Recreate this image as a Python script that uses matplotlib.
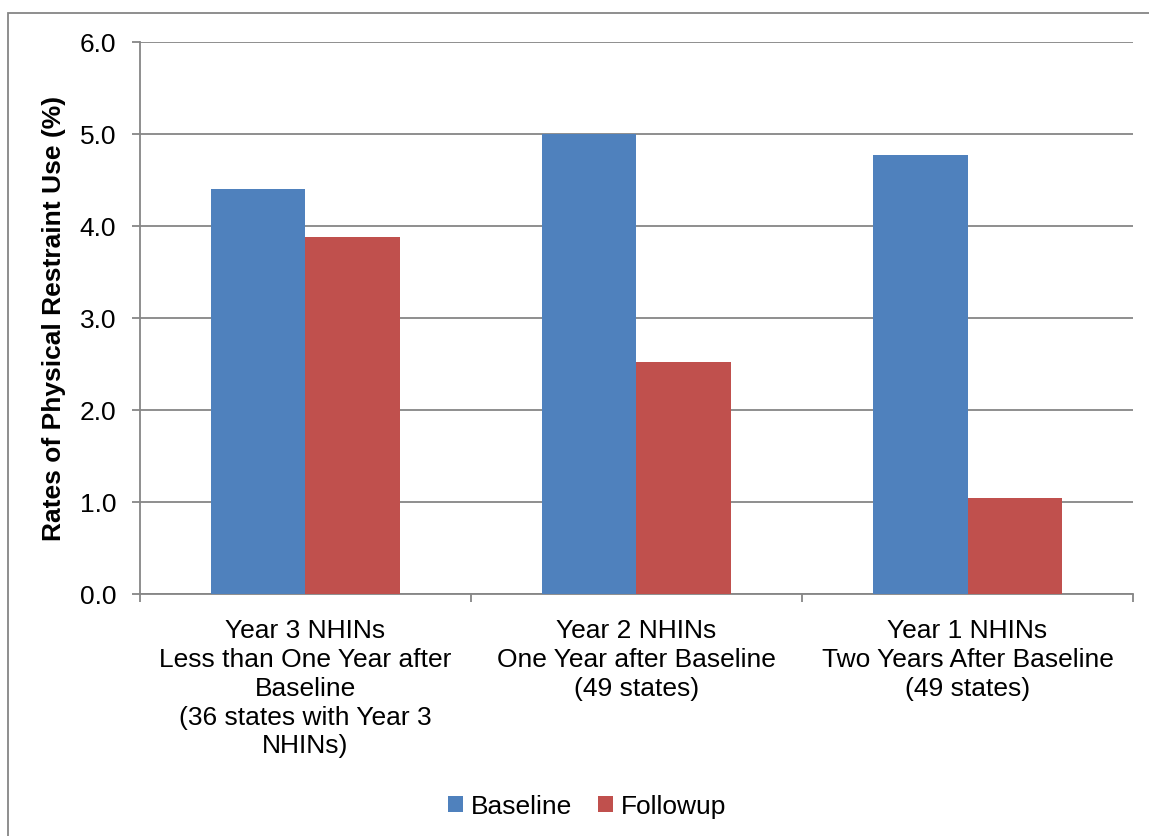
import matplotlib
matplotlib.use("Agg")
import matplotlib.pyplot as plt
from matplotlib.patches import Rectangle
import numpy as np

plt.rcParams["font.family"] = ["Liberation Sans", "DejaVu Sans"]

categories = [
    "Year 3 NHINs\nLess than One Year after\nBaseline\n(36 states with Year 3\nNHINs)",
    "Year 2 NHINs\nOne Year after Baseline\n(49 states)",
    "Year 1 NHINs\nTwo Years After Baseline\n(49 states)",
]
baseline = [4.41, 5.00, 4.78]
followup = [3.88, 2.52, 1.05]
yticks = [0.0, 1.0, 2.0, 3.0, 4.0, 5.0, 6.0]

grey = "#868686"
fs = 19
fig = plt.figure(figsize=(11.49, 8.36), dpi=100)
ax = fig.add_axes([0.1218, 0.2891, 0.8643, 0.6603])

x = np.arange(len(categories))
w = 0.285
ax.bar(x - w / 2, baseline, w, color="#4F81BD", label="Baseline", zorder=3)
ax.bar(x + w / 2, followup, w, color="#C0504D", label="Followup", zorder=3)

ax.set_xlim(-0.5, 2.5)
ax.set_ylim(0, 6)
ax.set_yticks(yticks)
ax.set_yticklabels([f"{v:.1f}" for v in yticks], fontsize=fs)
ax.yaxis.grid(True, color=grey, lw=1.3, zorder=0)
ax.set_xticks(x)
ax.set_xticklabels(categories, fontsize=fs, linespacing=1.25)
ax.tick_params(axis="x", length=0, pad=18)
ax.set_xticks(np.arange(-0.5, 3, 1), minor=True)
ax.tick_params(axis="x", which="minor", length=6, color=grey, width=1.3)
ax.tick_params(axis="y", length=6, color=grey, width=1.3, pad=11)
for s in ["top", "right"]:
    ax.spines[s].set_visible(False)
for s in ["left", "bottom"]:
    ax.spines[s].set_color(grey)
    ax.spines[s].set_linewidth(1.3)
ax.set_ylabel("Rates of Physical Restraint Use (%)", fontsize=fs,
              fontweight="bold", labelpad=10)

fig.legend(loc="center", bbox_to_anchor=(0.511, 0.035), ncol=2, frameon=False,
           fontsize=fs, handlelength=0.55, handleheight=0.55, handletextpad=0.3,
           columnspacing=1.0)

fig.patches.append(Rectangle((8 / 1149, -0.1), 1.2, 1 - 13 / 836 + 0.1,
                             transform=fig.transFigure, fill=False,
                             edgecolor=grey, lw=1.3))

fig.savefig("out.png", dpi=100)
